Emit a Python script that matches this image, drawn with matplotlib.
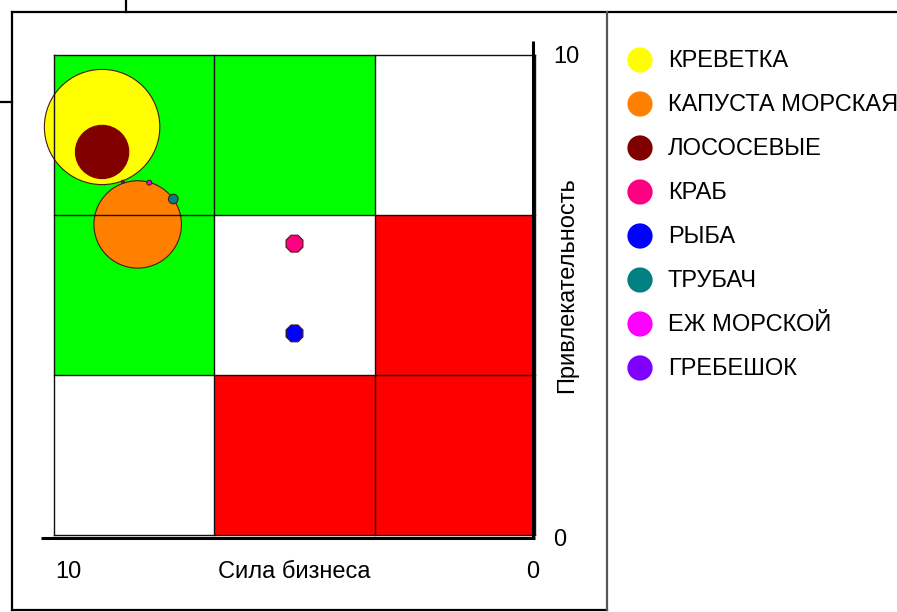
import matplotlib
matplotlib.use("Agg")
import matplotlib.pyplot as plt
from matplotlib.patches import Rectangle, Circle, RegularPolygon
from matplotlib.lines import Line2D

plt.rcParams['font.family'] = ['Liberation Sans', 'DejaVu Sans']

# Products: business strength (x), market attractiveness (y), bubble radius
products = ['КРЕВЕТКА', 'КАПУСТА МОРСКАЯ', 'ЛОСОСЕВЫЕ', 'КРАБ', 'РЫБА',
            'ТРУБАЧ', 'ЕЖ МОРСКОЙ', 'ГРЕБЕШОК']
colors = ['#ffff00', '#ff8000', '#800000', '#ff0080', '#0000ff',
          '#008080', '#ff00ff', '#8000ff']
strength = [9.0, 8.26, 9.0, 5.0, 5.0, 7.52, 8.02, 8.57]
attractiveness = [8.5, 6.47, 7.98, 6.07, 4.2, 7.0, 7.34, 7.36]
bubble_size = [1.2, 0.91, 0.555, 0.19, 0.19, 0.1, 0.05, 0.03]

# Nine-cell matrix colouring, rows from top to bottom, columns left to right
cell_colors = [['#00ff00', '#00ff00', '#ffffff'],
               ['#00ff00', '#ffffff', '#ff0000'],
               ['#ffffff', '#ff0000', '#ff0000']]
edges = [10, 20 / 3, 10 / 3, 0]

W, H = 897, 612
fig = plt.figure(figsize=(W / 100, H / 100), dpi=100)
fig.patch.set_facecolor('white')

x0, x1, y0, y1 = 54, 535, 55, 535
ax = fig.add_axes([x0 / W, 1 - y1 / H, (x1 - x0) / W, (y1 - y0) / H])
ax.set_xlim(10, 0)
ax.set_ylim(0, 10)
ax.axis('off')

for r in range(3):
    for c in range(3):
        xl, xr = edges[c], edges[c + 1]
        yt, yb = edges[r], edges[r + 1]
        ax.add_patch(Rectangle((xr, yb), xl - xr, yt - yb,
                               facecolor=cell_colors[r][c], edgecolor='none', zorder=1))

for name, col, sx, sy, rad in zip(products, colors, strength, attractiveness, bubble_size):
    ec = col if name == 'ЛОСОСЕВЫЕ' else '#4a1a10'
    if 0.15 < rad < 0.3:
        patch = RegularPolygon((sx, sy), 8, radius=rad, orientation=3.14159 / 8,
                               facecolor=col, edgecolor=ec, linewidth=0.8, zorder=3)
    else:
        patch = Circle((sx, sy), rad, facecolor=col, edgecolor=ec,
                       linewidth=0.8, zorder=3, clip_on=False)
    ax.add_patch(patch)

# grid lines drawn over the bubbles
for e in edges:
    ax.plot([e, e], [0, 10], color='#111111', lw=1.0, zorder=4, clip_on=False)
    ax.plot([0, 10], [e, e], color='#111111', lw=1.0, zorder=4, clip_on=False)

# axis lines
ax.plot([10.27, 0], [-0.06, -0.06], color='black', lw=2.2, zorder=5, clip_on=False,
        solid_capstyle='butt')
ax.plot([0.04, 0.04], [-0.06, 10.29], color='black', lw=2.2, zorder=5, clip_on=False,
        solid_capstyle='butt')

fs = 17
ax.text(9.7, -0.77, '10', fontsize=fs, ha='center', va='center')
ax.text(0.04, -0.77, '0', fontsize=fs, ha='center', va='center')
ax.text(5.0, -0.77, 'Сила бизнеса', fontsize=fs, ha='center', va='center')
ax.text(-0.65, 9.95, '10', fontsize=fs, ha='center', va='center')
ax.text(-0.52, -0.1, '0', fontsize=fs, ha='center', va='center')
ax.text(-0.67, 5.2, 'Привлекательность', fontsize=fs, ha='center', va='center',
        rotation=90)

# legend
lg = fig.add_axes([0, 0, 1, 1], facecolor='none')
lg.set_xlim(0, W)
lg.set_ylim(H, 0)
lg.axis('off')
for i, (name, col) in enumerate(zip(products, colors)):
    yy = 60 + i * 44
    lg.scatter([640], [yy], s=330, color=col, edgecolors='none')
    lg.text(668, yy + 1, name, fontsize=17, ha='left', va='center', clip_on=True)

# frame lines
frame = [((12, 12), (12, 610)), ((12, 607), (610, 610)), ((12, 897), (12, 12)),
         ((126, 126), (0, 12)), ((0, 12), (102, 102))]
for xs, ys in frame:
    lg.add_line(Line2D(xs, ys, color='black', lw=1.6))
lg.add_line(Line2D((607, 607), (12, 610), color='#555555', lw=1.6))

fig.savefig('out.png', dpi=100)
